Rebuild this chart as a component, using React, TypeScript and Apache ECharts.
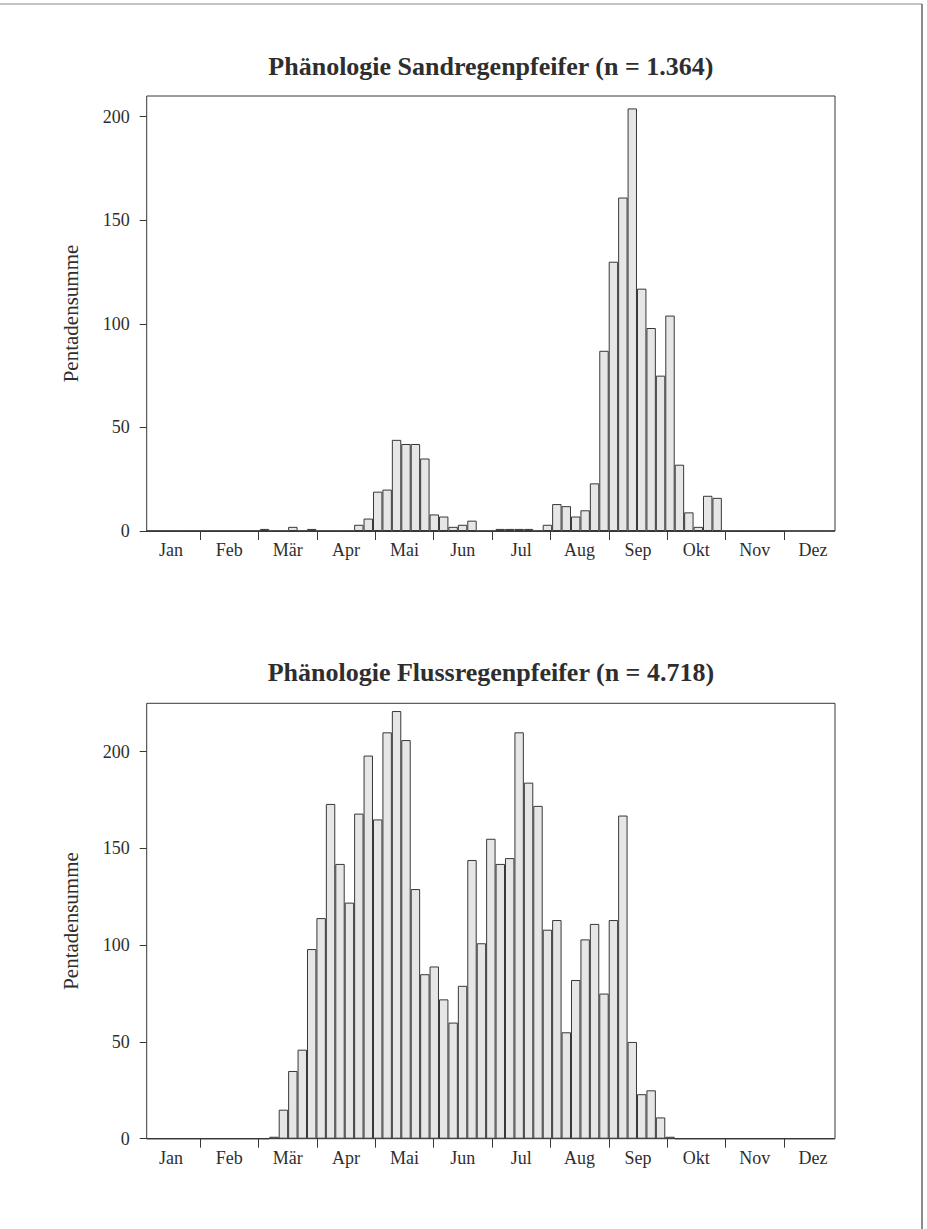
import React, { useEffect, useRef } from "react";
import * as echarts from "echarts";

// ---------- data ----------
const pentads: string[] = Array.from({ length: 73 }, (_, i) => String(i + 1));
const months = ["Jan", "Feb", "Mär", "Apr", "Mai", "Jun", "Jul", "Aug", "Sep", "Okt", "Nov", "Dez"];
const yTickValues = [0, 50, 100, 150, 200];

const sandTitle = "Phänologie Sandregenpfeifer (n = 1.364)";
const sandMax = 210;
const sandValues = [
  0, 0, 0, 0, 0, 0, 0, 0, 0, 0, 0, 0,
  1, 0, 0, 2, 0, 1, 0, 0, 0, 0,
  3, 6, 19, 20, 44, 42, 42, 35, 8, 7, 2, 3, 5, 0, 0,
  1, 1, 1, 1, 0,
  3, 13, 12, 7, 10, 23, 87, 130, 161, 204, 117, 98, 75, 104, 32, 9, 2, 17, 16,
  0, 0, 0, 0, 0, 0, 0, 0, 0, 0, 0, 0,
];

const flussTitle = "Phänologie Flussregenpfeifer (n = 4.718)";
const flussMax = 225;
const flussValues = [
  0, 0, 0, 0, 0, 0, 0, 0, 0, 0, 0, 0, 0,
  1, 15, 35, 46, 98, 114, 173, 142, 122, 168, 198, 165, 210, 221, 206, 129,
  85, 89, 72, 60, 79, 144, 101, 155, 142, 145, 210, 184, 172, 108, 113, 55,
  82, 103, 111, 75, 113, 167, 50, 23, 25, 11, 1,
  0, 0, 0, 0, 0, 0, 0, 0, 0, 0, 0, 0, 0, 0, 0, 0, 0,
];

const yName = "Pentadensumme";

// ---------- layout ----------
const W = 927;
const H = 1229;
const PLOT_L = 146.7;
const PLOT_R = 835;
const MONTH_L = 141.7;
const MONTH_W = 700.6;
const FONT = '"Liberation Serif", "Times New Roman", serif';
const INK = "#2e2e2e";
const LINE = "#383838";

const panels = [
  { title: sandTitle, values: sandValues, max: sandMax, top: 96, bottom: 531, titleY: 66 },
  { title: flussTitle, values: flussValues, max: flussMax, top: 703.3, bottom: 1138.7, titleY: 672 },
];

export default function App() {
  const ref = useRef<HTMLDivElement>(null);

  useEffect(() => {
    document.body.style.margin = "0";
    const chart = echarts.init(ref.current!, null, { renderer: "svg" });

    const grid: any[] = [];
    const xAxis: any[] = [];
    const yAxis: any[] = [];
    const series: any[] = [];
    const graphic: any[] = [];

    panels.forEach((p, k) => {
      const h = p.bottom - p.top;
      const g0 = k * 3;
      grid.push({
        left: PLOT_L,
        top: p.top,
        width: PLOT_R - PLOT_L,
        height: h,
        show: true,
        borderColor: LINE,
        borderWidth: 1,
        backgroundColor: "transparent",
      });
      grid.push({ left: MONTH_L, top: p.top, width: MONTH_W, height: h });
      grid.push({ left: MONTH_L, top: p.top, width: (MONTH_W * 11) / 12, height: h });

      xAxis.push({
        type: "category",
        gridIndex: g0,
        data: pentads,
        boundaryGap: true,
        axisLine: { show: false },
        axisTick: { show: false },
        axisLabel: { show: false },
        splitLine: { show: false },
      });
      xAxis.push({
        type: "category",
        gridIndex: g0 + 1,
        data: months,
        boundaryGap: true,
        axisLine: { show: false },
        axisTick: { show: false },
        axisLabel: {
          show: true,
          interval: 0,
          margin: 10,
          fontFamily: FONT,
          fontSize: 18,
          color: INK,
        },
        splitLine: { show: false },
      });
      xAxis.push({
        type: "category",
        gridIndex: g0 + 2,
        data: months,
        boundaryGap: false,
        axisLine: { show: true, lineStyle: { color: LINE, width: 1 } },
        axisTick: {
          show: true,
          length: 9,
          inside: false,
          interval: (index: number) => index > 0,
          lineStyle: { color: LINE, width: 1 },
        },
        axisLabel: { show: false },
        splitLine: { show: false },
      });

      yAxis.push({
        type: "value",
        gridIndex: g0,
        min: 0,
        max: p.max,
        interval: 50,
        axisLine: { show: false },
        axisTick: {
          show: true,
          length: 7,
          customValues: yTickValues,
          lineStyle: { color: LINE, width: 1 },
        },
        axisLabel: {
          show: true,
          margin: 17,
          customValues: yTickValues,
          fontFamily: FONT,
          fontSize: 18,
          color: INK,
        },
        splitLine: { show: false },
      });
      yAxis.push({ type: "value", gridIndex: g0 + 1, show: false, min: 0, max: p.max });
      yAxis.push({ type: "value", gridIndex: g0 + 2, show: false, min: 0, max: p.max });

      series.push({
        type: "bar",
        xAxisIndex: g0,
        yAxisIndex: g0,
        data: p.values,
        barCategoryGap: "0%",
        barGap: "0%",
        itemStyle: { color: "#e6e6e6", borderColor: LINE, borderWidth: 1 },
        emphasis: { disabled: true },
        silent: true,
      });

      graphic.push({
        type: "text",
        x: (PLOT_L + PLOT_R) / 2,
        y: p.titleY,
        style: {
          text: p.title,
          font: `bold 26px ${FONT}`,
          fill: INK,
          align: "center",
          verticalAlign: "middle",
        },
      });
      graphic.push({
        type: "text",
        x: 71,
        y: (p.top + p.bottom) / 2,
        rotation: Math.PI / 2,
        style: {
          text: yName,
          font: `21px ${FONT}`,
          fill: INK,
          align: "center",
          verticalAlign: "middle",
        },
      });
    });

    // page frame (scan border)
    graphic.push({
      type: "line",
      shape: { x1: 0, y1: 4, x2: 922, y2: 4 },
      style: { stroke: "#888", lineWidth: 1 },
    });
    graphic.push({
      type: "line",
      shape: { x1: 922, y1: 4, x2: 922, y2: H },
      style: { stroke: "#666", lineWidth: 1.5 },
    });

    chart.setOption({
      animation: false,
      backgroundColor: "#ffffff",
      grid,
      xAxis,
      yAxis,
      series,
      graphic,
    });

    return () => chart.dispose();
  }, []);

  return <div ref={ref} style={{ width: W, height: H }} />;
}
